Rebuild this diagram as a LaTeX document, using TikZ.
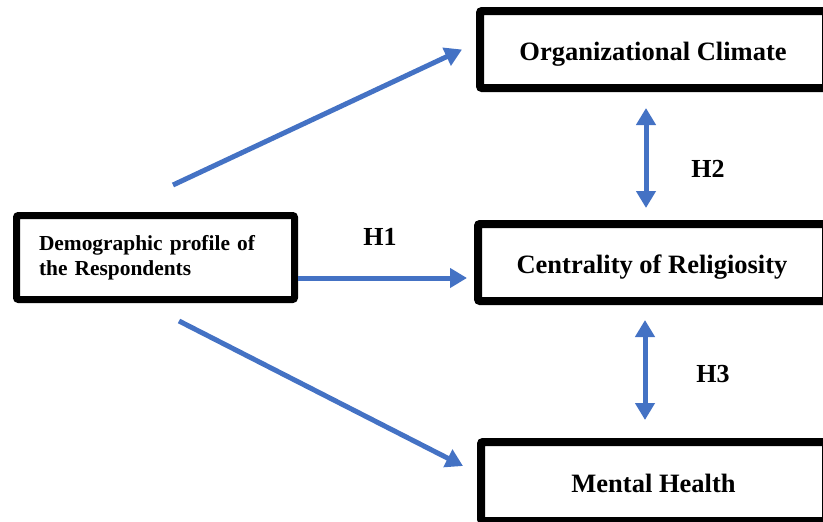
\documentclass[tikz,border=0pt]{standalone}
\usepackage{fontspec}
\setmainfont{Liberation Serif}
\usetikzlibrary{arrows.meta}
\definecolor{linkblue}{HTML}{4472C4}
\tikzset{
	box/.style={draw=black, line width=8pt, rounded corners=2pt, inner sep=0pt, text height=22pt, text depth=0pt, font=\bfseries\fontsize{26.5}{30}\selectfont},
	link/.style={draw=linkblue, line width=5pt, -{Triangle[length=17pt,width=19pt]}},
	dlink/.style={link, {Triangle[length=17pt,width=19pt]}-{Triangle[length=17pt,width=19pt]}},
	hyp/.style={font=\bfseries\fontsize{26}{30}\selectfont}
}

\begin{document}
\begin{tikzpicture}[x=1pt,y=-1pt]
			\useasboundingbox (0,0) rectangle (823,522);
			
			\node[box, minimum width=346pt, minimum height=77pt] (clim) at (653,49.5) {Organizational Climate};
			\node[box, minimum width=348pt, minimum height=77pt] (cent) at (652,262.5) {Centrality of Religiosity};
			\node[box, minimum width=345pt, minimum height=79pt] (ment) at (653.5,481.5) {Mental Health};
			\node[box, line width=7pt, text width=233pt, inner xsep=22.5pt, minimum height=84pt, align=left, text height=, text depth=, font=\bfseries\fontsize{21.4}{25}\selectfont] (demo) at (155.5,257.5) {Demographic profile of\\the Respondents};
			
			% demographic profile to the three variables
			\draw[link] ([xshift=17.5pt, yshift=27pt]demo.north) -- ([xshift=-14pt]clim.west);
			\coordinate (h1s) at ([yshift=-20.5pt]demo.east);
			\draw[link, shorten >=7pt] (h1s) -- (h1s -| cent.west);
			\draw[link] ([xshift=23.5pt, yshift=-18pt]demo.south) -- ([xshift=-14pt, yshift=15.5pt]ment.west);
			
			% hypotheses between the variables
			\draw[dlink, shorten <=16pt, shorten >=12pt] ([xshift=-7pt]clim.south) -- ([xshift=-6pt]cent.north);
			\draw[dlink, shorten <=15pt, shorten >=18pt] ([xshift=-7pt]cent.south) -- ([xshift=-8.5pt]ment.north);
			
			\node[hyp] (h1) at (380,237) {H1};
			\node[hyp] (h2) at (708,169) {H2};
			\node[hyp] (h3) at (713,374) {H3};
\end{tikzpicture}
\end{document}
